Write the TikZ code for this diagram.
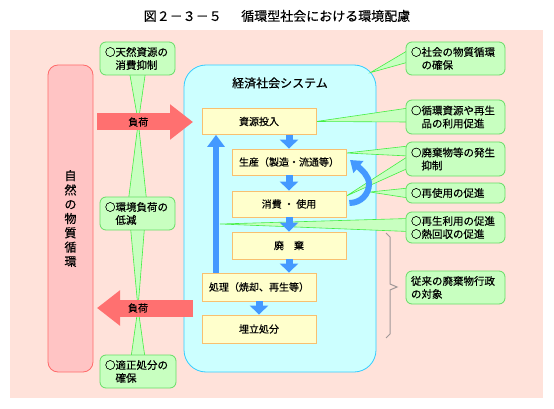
\documentclass[tikz,border=0pt]{standalone}
\usepackage{fontspec}
\setmainfont{Noto Sans CJK JP}[FakeBold=0.35]
\usepackage{xcolor}
\usepackage{tikz}
\usetikzlibrary{positioning,arrows.meta}

\definecolor{bgpink}{HTML}{FFE2DA}
\definecolor{natfill}{HTML}{FFC4C4}
\definecolor{natdraw}{HTML}{FF6A6A}
\definecolor{sysfill}{HTML}{CCFFFF}
\definecolor{sysdraw}{HTML}{33CCFF}
\definecolor{boxfill}{HTML}{FFFFCC}
\definecolor{boxdraw}{HTML}{F8C070}
\definecolor{flowblue}{HTML}{4499FF}
\definecolor{loadred}{HTML}{FF7070}
\definecolor{notefill}{HTML}{C8FFC0}
\definecolor{notedraw}{HTML}{66DD66}
\definecolor{ptrdraw}{HTML}{44EE44}
\definecolor{bracegray}{HTML}{A09898}

\pgfdeclarelayer{back}
\pgfdeclarelayer{ptr}
\pgfsetlayers{back,ptr,main}

\begin{document}
\begin{tikzpicture}[x=1pt, y=-1pt,
    flowbox/.style={draw=boxdraw, fill=boxfill, line width=0.8pt, minimum width=114pt,
        minimum height=26pt, inner sep=0pt, font=\fontsize{10}{12}\selectfont},
    note/.style={draw=notedraw, fill=notefill, line width=0.8pt, rounded corners=6pt,
        align=left, inner xsep=5pt, inner ysep=2pt, font=\fontsize{10.5}{13}\selectfont},
    pointer/.style={fill=notefill, draw=ptrdraw, line width=0.6pt},
    flowarrow/.style={draw=flowblue, line width=7pt, -{Triangle[width=18pt,length=9pt]}},
    loadarrow/.style={draw=loadred, line width=17pt, -{Triangle[width=34pt,length=23pt]}},
    loadlabel/.style={inner sep=0pt, font=\fontsize{10}{12}\selectfont},
    bracemark/.style={draw=bracegray, line width=1pt}]
\useasboundingbox (0,0) rectangle (554,409);

\node[font=\fontsize{13}{15}\selectfont] (title) at (277,16) {図２－３－５\hspace{0.5em}　循環型社会における環境配慮};

\begin{pgfonlayer}{back}
\fill[bgpink] (10,30) rectangle (543,398);
\node[draw=natdraw, fill=natfill, line width=0.8pt, rounded corners=10pt, minimum width=45pt,
    minimum height=307pt, align=center, font=\fontsize{12}{14.3}\selectfont] (nature) at (70.5,218.5)
    {自\\然\\の\\物\\質\\循\\環};
\node[draw=sysdraw, fill=sysfill, line width=0.8pt, rounded corners=22pt, minimum width=192pt,
    minimum height=307pt] (system) at (280,218.5) {};
\end{pgfonlayer}
\node[font=\fontsize{12}{14}\selectfont] (systitle) at (280,83) {経済社会システム};

% flow inside the economic system
\node[flowbox] (shigen) at (259,121.5) {資源投入};
\node[flowbox] (seisan) at (289,162) {生産（製造・流通等）};
\node[flowbox] (shohi) at (289,204) {消費 ・ 使用};
\node[flowbox, minimum height=27pt] (haiki) at (289,245.5) {廃　棄};
\node[flowbox, minimum height=28pt] (shori) at (259,287) {処理（焼却、再生等）};
\node[flowbox, minimum height=28pt] (umetate) at (259,329) {埋立処分};

\draw[flowarrow] (shigen.south -| seisan.north) -- (seisan.north);
\draw[flowarrow] (seisan.south) -- (shohi.north);
\draw[flowarrow] (shohi.south) -- (haiki.north);
\draw[flowarrow] (haiki.south) -- (haiki.south |- shori.north);
\draw[flowarrow] (shori.south) -- (umetate.north);
\draw[flowarrow, line width=6pt, -{Triangle[width=17pt,length=12pt]}]
    ([shift={(-43,0)}]shori.north) -- ([shift={(-43,0)}]shigen.south);
\draw[flowarrow, line width=6pt, -{Triangle[width=15pt,length=11pt]}]
    ([shift={(3,-1)}]shohi.east) .. controls (361,203) and (369,194) .. (369,184)
    .. controls (369,176) and (362,170) .. (350,160);
\coordinate (reuse_tip) at (370,192);
\coordinate (recycle_tip) at (220,224);

% loads between nature and society
\coordinate (load_in_a) at (97,122);
\coordinate (load_in_b) at (193,122);
\coordinate (load_out_a) at (193,308);
\coordinate (load_out_b) at (97,308);
\draw[loadarrow] (load_in_a) -- (load_in_b) node[loadlabel, pos=0.43] (load_top) {負荷};
\draw[loadarrow] (load_out_a) -- (load_out_b) node[loadlabel, pos=0.573] (load_bot) {負荷};

% callouts
\node[note, text width=65pt, minimum height=33pt] (note_tennen) at (137.5,58.5) {○天然資源の\\　消費抑制};
\node[note, text width=65pt, minimum height=33pt] (note_kankyo) at (137.5,213.5) {○環境負荷の\\　低減};
\node[note, text width=66pt, minimum height=33pt] (note_tekisei) at (138,371.5) {○適正処分の\\　確保};
\node[note, text width=89pt, minimum height=33pt] (note_shakai) at (455.5,58.5) {○社会の物質循環\\　の確保};
\node[note, text width=89pt, minimum height=34pt] (note_junkan) at (455.5,117) {○循環資源や再生\\　品の利用促進};
\node[note, text width=89pt, minimum height=34pt] (note_hassei) at (455.5,159) {○廃棄物等の発生\\　抑制};
\node[note, text width=89pt, minimum height=20pt] (note_reuse) at (455.5,193) {○再使用の促進};
\node[note, text width=89pt, minimum height=31pt] (note_recycle) at (455.5,227.5) {○再生利用の促進\\○熱回収の促進};
\node[note, text width=89pt, minimum height=33pt] (note_jurai) at (455.5,287.5) {従来の廃棄物行政\\の対象};

\draw[bracemark] (386,233) -- (390,237) -- (390,284) -- (397,287) -- (390,290) -- (390,334) -- (386,338);

\begin{pgfonlayer}{ptr}
\path[pointer] ([shift={(-8,-3)}]note_tennen.south) -- ([shift={(8,-3)}]note_tennen.south) -- (load_top.center) -- cycle;
\path[pointer] ([shift={(-9,3)}]note_kankyo.north) -- ([shift={(9,3)}]note_kankyo.north) -- (load_top.center) -- cycle;
\path[pointer] ([shift={(-7,-3)}]note_kankyo.south) -- ([shift={(7,-3)}]note_kankyo.south) -- (load_bot.center) -- cycle;
\path[pointer] ([shift={(-7,3)}]note_tekisei.north) -- ([shift={(7,3)}]note_tekisei.north) -- (load_bot.center) -- cycle;
\path[pointer] ([shift={(3,-8.5)}]note_shakai.west) -- ([shift={(3,3.5)}]note_shakai.west) -- ([shift={(-6,8)}]system.north east) -- cycle;
\path[pointer] ([shift={(3,-9)}]note_junkan.west) -- ([shift={(3,5)}]note_junkan.west) -- (shigen.east) -- cycle;
\path[pointer] ([shift={(3,-13)}]note_hassei.west) -- ([shift={(3,-3)}]note_hassei.west) -- ([shift={(0,-9)}]seisan.east) -- cycle;
\path[pointer] ([shift={(3,-3)}]note_hassei.west) -- ([shift={(3,9)}]note_hassei.west) -- ([shift={(0,-8)}]shohi.east) -- cycle;
\path[pointer] ([shift={(3,-5)}]note_reuse.west) -- ([shift={(3,5)}]note_reuse.west) -- (reuse_tip) -- cycle;
\path[pointer] ([shift={(3,-9)}]note_recycle.west) -- ([shift={(3,4)}]note_recycle.west) -- (recycle_tip) -- cycle;
\end{pgfonlayer}

\end{tikzpicture}
\end{document}
